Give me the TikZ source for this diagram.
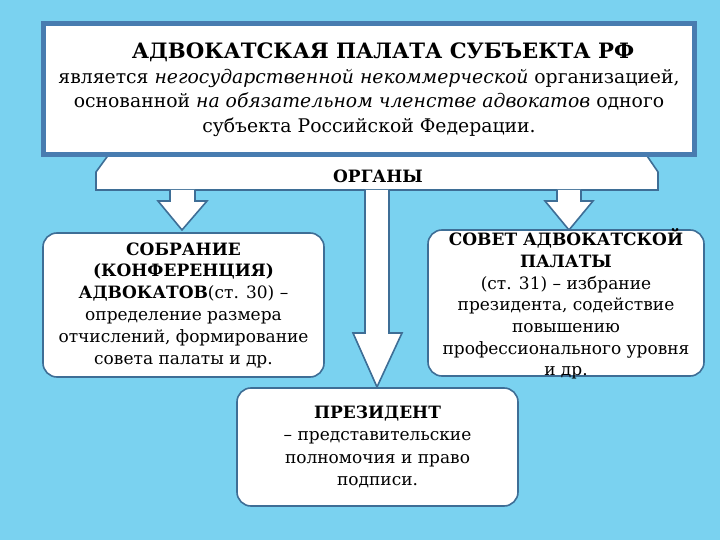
\documentclass[tikz,border=0pt]{standalone}
\usepackage{fontspec}
\setmainfont{DejaVu Serif}
\definecolor{bgblue}{RGB}{122,210,240}
\definecolor{edge}{RGB}{62,110,150}
\definecolor{topedge}{RGB}{72,124,176}
\tikzset{
  rbox/.style={draw=edge, line width=1.6pt, fill=white, rounded corners=14pt, inner sep=0pt, align=center},
  blockarrow/.style={draw=edge, line width=1.6pt, fill=white, line join=miter},
  txt/.style={inner sep=0pt, align=center, text=black},
}
\begin{document}
\begin{tikzpicture}[x=1pt,y=-1pt]
\fill[bgblue] (0,0) rectangle (720,540);
\useasboundingbox (0,0) rectangle (720,540);
% organs bar
\draw[blockarrow] (96,190) -- (96,172) -- (112,150) -- (643,150) -- (658,172) -- (658,190) -- cycle;
\node[txt, font=\bfseries\fontsize{17}{20}\selectfont] (organy) at (378,176) {ОРГАНЫ};
% top box
\node[draw=topedge, line width=5pt, fill=white, minimum width=651pt, minimum height=131pt, inner sep=0pt] (top) at (369,89.5) {};
\node[txt, font=\bfseries\fontsize{21.2}{24}\selectfont] (title) at (383,52) {АДВОКАТСКАЯ ПАЛАТА СУБЪЕКТА РФ};
\node[txt, font=\fontsize{18.8}{24.3}\selectfont, anchor=north] (desc) at (369,69)
 {является \textit{негосударственной некоммерческой} организацией,\\
  основанной \textit{на обязательном членстве адвокатов} одного\\
  субъекта Российской Федерации.};
% arrows
\draw[blockarrow] (170,190) -- (170,201) -- (158,201) -- (182,230) -- (207,201) -- (195,201) -- (195,190);
\draw[blockarrow] (557,190) -- (557,201) -- (545,201) -- (569,230) -- (593,201) -- (581,201) -- (581,190);
\draw[blockarrow] (365,190) -- (365,333) -- (353,333) -- (377,387) -- (402,333) -- (389,333) -- (389,190);
% boxes
\node[rbox, minimum width=281pt, minimum height=144pt, font=\fontsize{17}{21.8}\selectfont] (sobr) at (183.5,305)
 {\textbf{СОБРАНИЕ}\\ \textbf{(КОНФЕРЕНЦИЯ)}\\ \textbf{АДВОКАТОВ}(ст. 30) –\\ определение размера\\ отчислений, формирование\\ совета палаты и др.};
\node[rbox, minimum width=276pt, minimum height=146pt] (sovet) at (566,303) {};
\node[txt, font=\fontsize{17}{21.7}\selectfont] (sovettext) at (566,304)
 {\textbf{СОВЕТ АДВОКАТСКОЙ}\\ \textbf{ПАЛАТЫ}\\ (ст. 31) – избрание\\ президента, содействие\\ повышению\\ профессионального уровня\\ и др.};
\node[rbox, minimum width=281pt, minimum height=118pt, font=\fontsize{17}{22.5}\selectfont] (pres) at (377.5,447)
 {\textbf{ПРЕЗИДЕНТ}\\ – представительские\\ полномочия и право\\ подписи.};
\end{tikzpicture}
\end{document}
